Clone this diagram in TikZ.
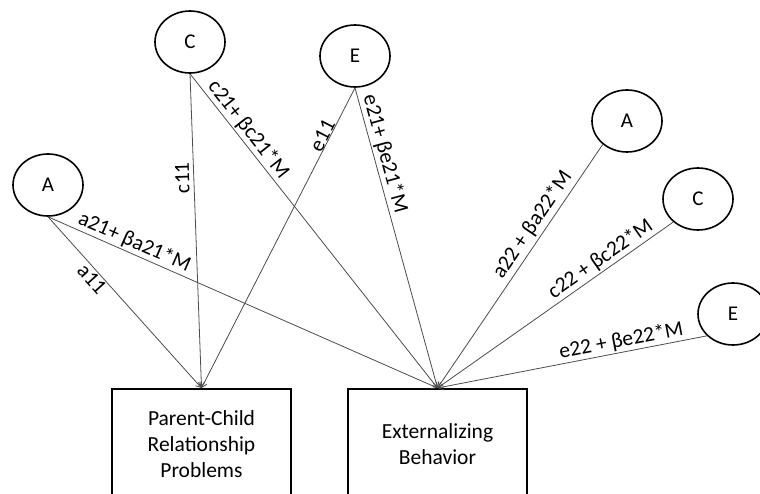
\documentclass[tikz,border=0pt]{standalone}
\usepackage{fontspec}
\setmainfont{Carlito}
\usetikzlibrary{shapes.geometric,arrows.meta}
\begin{document}
\begin{tikzpicture}[x=1pt,y=-1pt,
  lat/.style={ellipse,draw,line width=1.6pt,minimum width=70pt,minimum height=62pt,inner sep=0pt,font=\fontsize{21}{24}\selectfont},
  obs/.style={rectangle,draw,line width=1.6pt,minimum width=179pt,minimum height=110pt,anchor=north,align=center,font=\fontsize{21.5}{26}\selectfont},
  conn/.style={draw=black!70,line width=0.8pt,-{Straight Barb[length=5pt,width=6pt]}},
  lbl/.style={sloped,above,inner sep=1.5pt,font=\fontsize{21.5}{24}\selectfont,text=black}
]
\useasboundingbox (0,0) rectangle (760,494);
\clip (0,0) rectangle (760,494);

% latent factors
\node[lat] (C1) at (190,42) {C};
\node[lat] (E1) at (355,56) {E};
\node[lat] (A1) at (48,185) {A};
\node[lat] (A2) at (627,121) {A};
\node[lat] (C2) at (698,199) {C};
\node[lat] (E2) at (733,314) {E};

% observed variables
\node[obs] (pcr) at (201.5,388) {Parent-Child\\Relationship\\Problems};
\node[obs] (ext) at (437.5,388) {Externalizing\\Behavior};

% paths to parent-child relationship problems
\draw[conn] (A1.south) -- node[lbl,pos=0.33,below] {a11} (pcr.north);
\draw[conn] (C1.south) -- node[pos=0.33,rotate=91.7,anchor=south,inner sep=4pt,font=\fontsize{21.5}{24}\selectfont] {c11} (pcr.north);
\draw[conn] (E1.south) -- node[lbl,pos=0.17,inner sep=0pt] {e11} (pcr.north);

% paths to externalizing behavior
\draw[conn] (A1.south) -- node[lbl,pos=0.21] {a21+ βa21*M} (ext.north);
\draw[conn] (C1.south) -- node[lbl,pos=0.20] {c21+ βc21*M} (ext.north);
\draw[conn] (E1.south) -- node[lbl,pos=0.23] {e21+ βe21*M} (ext.north);
\draw[conn] (A2.224) -- node[lbl,pos=0.36,inner sep=3pt] {a22 + βa22*M} (ext.north);
\draw[conn] (C2.223) -- node[lbl,pos=0.28] {c22 + βc22*M} (ext.north);
\draw[conn] (E2.220) -- node[lbl,pos=0.31] {e22 + βe22*M} (ext.north);
\end{tikzpicture}
\end{document}
